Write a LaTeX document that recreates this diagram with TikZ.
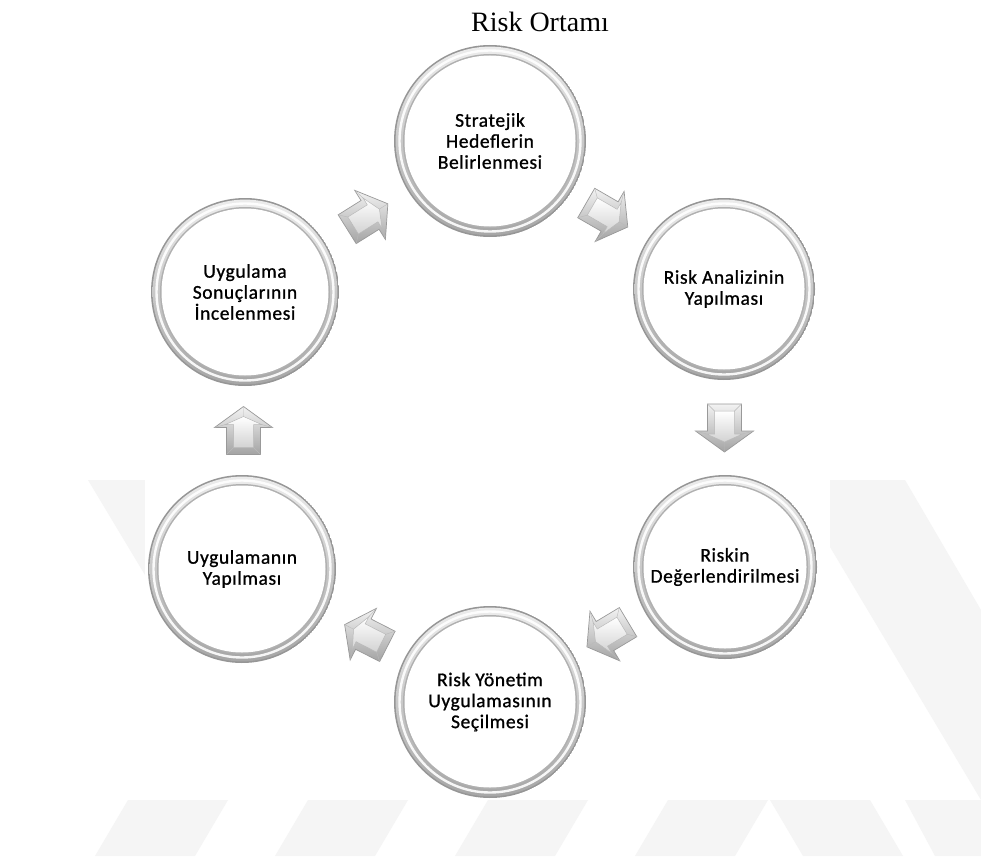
\documentclass[tikz,border=0pt]{standalone}
\usepackage{fontspec}
\setmainfont{Carlito}
\newfontfamily\titlefont{Liberation Serif}
\newfontfamily\lab{Carlito}[FakeBold=0.9, LetterSpace=3]
\usetikzlibrary{calc}
\begin{document}
\begin{tikzpicture}[x=1pt,y=-1pt,
  ring/.style={circle, inner sep=0pt, minimum size={2*#1pt}, align=center,
    font=\lab\fontsize{19.5}{21}\selectfont, text=black,
    path picture={
      \fill[gray!82] (path picture bounding box.center) circle ({#1pt});
      \shade[top color=gray!15, bottom color=gray!70] (path picture bounding box.center) circle ({#1pt-1.6pt});
      \draw[white, line width=2.4pt, opacity=.9] (path picture bounding box.center) circle ({#1pt-5.5pt});
      \fill[gray!62] (path picture bounding box.center) circle ({#1pt-9pt});
      \fill[white] (path picture bounding box.center) circle ({#1pt-10.5pt});
    }},
  barrow/.pic={
    \shade[top color=gray!10, bottom color=gray!72, draw=gray!80, line width=.7pt]
      (-24,-17) -- (3,-17) -- (3,-29) -- (24,0) -- (3,29) -- (3,17) -- (-24,17) -- cycle;
    \draw[gray!55, line width=.4pt] (-24,-17) -- (-17,-10) (-24,17) -- (-17,10)
      (24,0) -- (14,0) (3,-29) -- (6,-18) (3,29) -- (6,18);
    \shade[top color=white, bottom color=gray!35, draw=gray!55, line width=.5pt]
      (-17,-10) -- (6,-10) -- (6,-18) -- (14,0) -- (6,18) -- (6,10) -- (-17,10) -- cycle;
  },
  wm/.style={fill=black!4}
]
% canvas
\fill[white] (0,0) rectangle (981,856);
% faint background watermark
\fill[wm] (88,480) -- (198,480) -- (330,700) -- (220,700) -- cycle;
\fill[wm] (790,480) -- (905,480) -- (981,610) -- (981,800) -- cycle;
\foreach \s in {95,275,455,635}{
  \fill[wm] (\s,856) -- (\s+100,856) -- (\s+133,800) -- (\s+33,800) -- cycle;
}
\fill[wm] (770,800) -- (870,800) -- (903,856) -- (803,856) -- cycle;
\fill[wm] (905,800) -- (981,800) -- (981,856) -- (935,856) -- cycle;
\fill[white] (145,0) rectangle (830,800);

% title
\node[font=\titlefont\fontsize{28}{32}\selectfont] (title) at (540,22) {Risk Ortamı};

% circles
\node[ring=96] (s1) at (490,141) {Stratejik\\Hedeflerin\\Belirlenmesi};
\node[ring=91] (s2) at (724,289) {Risk Analizinin\\Yapılması};
\node[ring=92] (s3) at (725,567) {Riskin\\Değerlendirilmesi};
\node[ring=96] (s4) at (490,702) {Risk Yönetim\\Uygulamasının\\Seçilmesi};
\node[ring=94] (s5) at (242,569) {Uygulamanın\\Yapılması};
\node[ring=94] (s6) at (245,292) {Uygulama\\Sonuçlarının\\İncelenmesi};

% block arrows between neighbouring circles
\path ($(s1)!.5!(s2)$) pic[rotate=-30] {barrow};
\path ($(s2)!.5!(s3)$) pic[rotate=-90] {barrow};
\path ($(s3)!.5!(s4)$) pic[rotate=-149] {barrow};
\path ($(s4)!.5!(s5)$) pic[rotate=153] {barrow};
\path ($(s5)!.5!(s6)$) pic[rotate=90] {barrow};
\path ($(s6)!.5!(s1)$) pic[rotate=32] {barrow};
\end{tikzpicture}
\end{document}
